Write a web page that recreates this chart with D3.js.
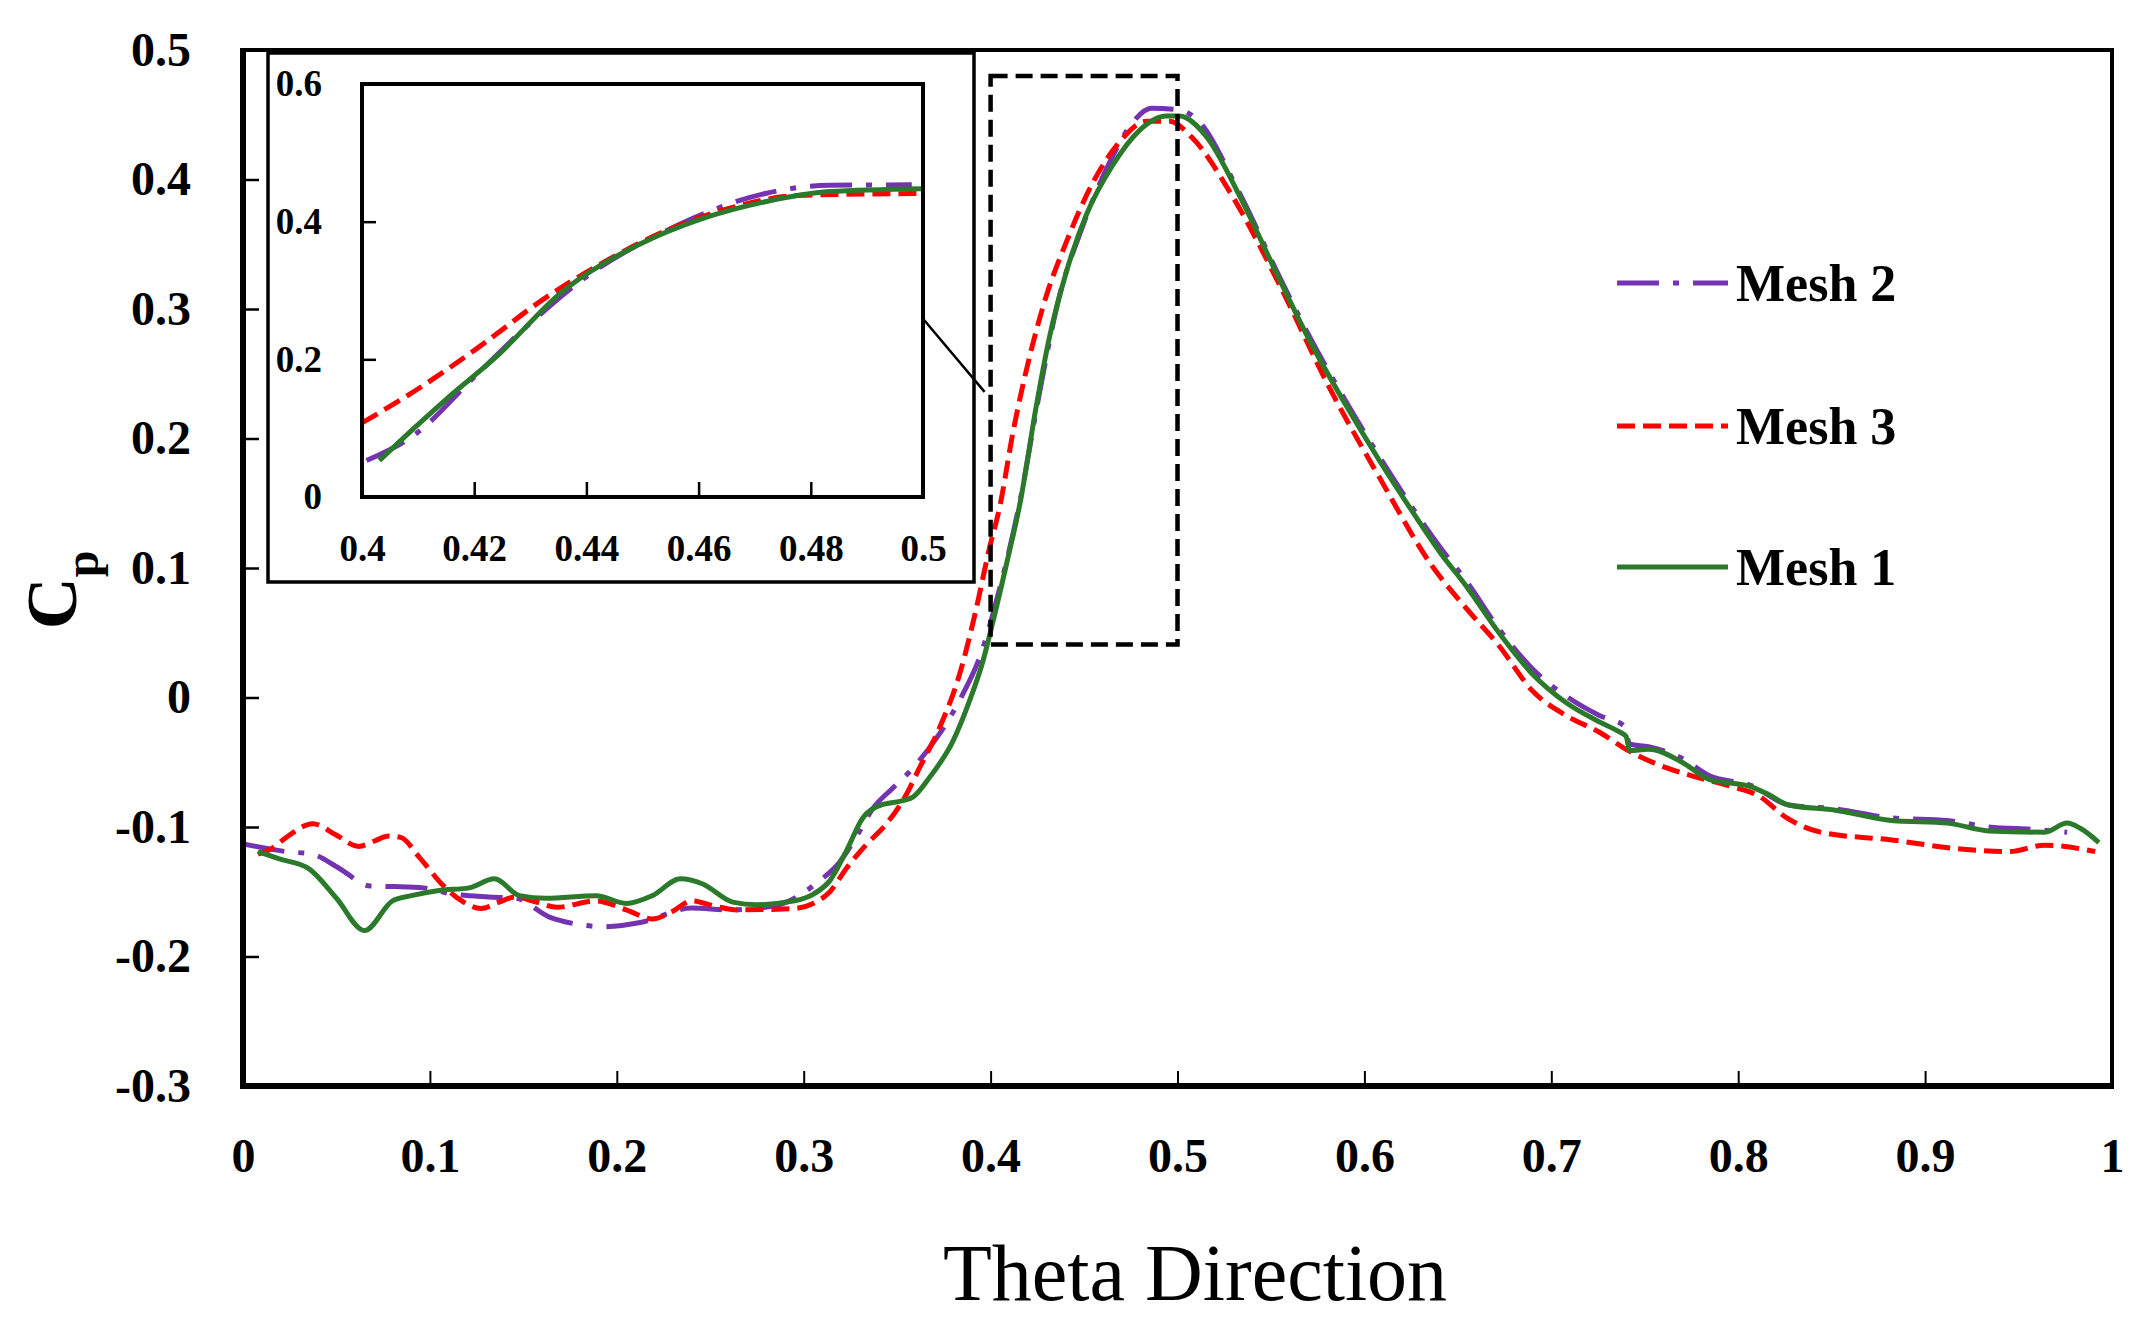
<!DOCTYPE html>
<html><head><meta charset="utf-8">
<script src="https://cdn.jsdelivr.net/npm/d3@7/dist/d3.min.js"></script>
<style>html,body{margin:0;padding:0;background:#fff;} svg{display:block;}</style>
</head><body>
<svg id="chart" width="2149" height="1320"></svg>
<script>
// ---------------- data ----------------
const xTicks = [0, 0.1, 0.2, 0.3, 0.4, 0.5, 0.6, 0.7, 0.8, 0.9, 1];
const xTickLabels = ["0", "0.1", "0.2", "0.3", "0.4", "0.5", "0.6", "0.7", "0.8", "0.9", "1"];
const yTicks = [0.5, 0.4, 0.3, 0.2, 0.1, 0, -0.1, -0.2, -0.3];
const yTickLabels = ["0.5", "0.4", "0.3", "0.2", "0.1", "0", "-0.1", "-0.2", "-0.3"];

const seriesNames = ["Mesh 2", "Mesh 3", "Mesh 1"];

// Mesh 1 (green, solid)
const theta1 = [0.008,0.019,0.035,0.050,0.065,0.080,0.090,0.105,0.121,0.1345,0.148,0.162,0.189,0.205,0.219,0.234,0.246,0.262,0.275,0.295,0.305,0.314,0.323,0.3316,0.3406,0.353,0.3584,0.3674,0.380,0.3888,0.396,0.401,0.4085,0.416,0.4245,0.4316,0.4406,0.4513,0.4653,0.4797,0.494,0.501,0.5155,0.533,0.5545,0.572,0.590,0.608,0.625,0.640,0.655,0.672,0.690,0.708,0.726,0.737,0.740,0.742,0.752,0.770,0.784,0.807,0.815,0.827,0.852,0.882,0.912,0.934,0.964,0.976,0.983,0.993];
const cp1 = [-0.119,-0.1245,-0.132,-0.155,-0.180,-0.157,-0.153,-0.149,-0.147,-0.140,-0.153,-0.155,-0.153,-0.159,-0.153,-0.140,-0.144,-0.158,-0.160,-0.157,-0.152,-0.1414,-0.118,-0.093,-0.0835,-0.0796,-0.077,-0.0616,-0.0333,-0.0023,0.0286,0.057,0.103,0.152,0.2256,0.279,0.329,0.373,0.411,0.438,0.449,0.449,0.433,0.388,0.323,0.272,0.226,0.183,0.145,0.113,0.085,0.050,0.018,-0.004,-0.019,-0.027,-0.030,-0.041,-0.040,-0.050,-0.063,-0.069,-0.074,-0.083,-0.087,-0.095,-0.097,-0.103,-0.104,-0.097,-0.101,-0.112];

// Mesh 2 (purple, dash-dot)
const theta2 = [0.000,0.023,0.037,0.0516,0.068,0.0813,0.0966,0.111,0.1314,0.1457,0.164,0.1775,0.1928,0.2133,0.240,0.2604,0.285,0.3086,0.3187,0.328,0.337,0.3476,0.3584,0.371,0.378,0.385,0.394,0.405,0.4155,0.426,0.437,0.448,0.465,0.476,0.486,0.500,0.510,0.533,0.5545,0.572,0.590,0.608,0.625,0.640,0.655,0.672,0.690,0.708,0.726,0.739,0.742,0.752,0.770,0.784,0.807,0.827,0.852,0.882,0.912,0.934,0.960,0.976];
const cp2 = [-0.113,-0.119,-0.121,-0.132,-0.1456,-0.146,-0.147,-0.1515,-0.154,-0.155,-0.1696,-0.1747,-0.177,-0.1735,-0.1626,-0.164,-0.1606,-0.1414,-0.128,-0.108,-0.0857,-0.070,-0.0546,-0.0314,-0.016,0.0023,0.0304,0.085,0.150,0.234,0.311,0.359,0.417,0.444,0.455,0.454,0.447,0.390,0.325,0.275,0.229,0.186,0.148,0.117,0.089,0.053,0.022,0.001,-0.014,-0.022,-0.036,-0.038,-0.047,-0.060,-0.068,-0.083,-0.086,-0.093,-0.095,-0.100,-0.102,-0.104];

// Mesh 3 (red, dashed)
const theta3 = [0.008,0.0148,0.025,0.0373,0.0496,0.0618,0.070,0.078,0.0843,0.0947,0.107,0.117,0.1273,0.137,0.1457,0.157,0.168,0.1887,0.205,0.219,0.230,0.240,0.252,0.2644,0.295,0.305,0.314,0.3228,0.3335,0.344,0.355,0.362,0.3727,0.3834,0.392,0.399,0.405,0.412,0.421,0.430,0.4406,0.4545,0.469,0.4834,0.4957,0.508,0.529,0.5545,0.581,0.608,0.636,0.655,0.672,0.690,0.708,0.726,0.740,0.761,0.779,0.797,0.811,0.826,0.844,0.882,0.919,0.945,0.964,0.991];
const cp3 = [-0.121,-0.117,-0.106,-0.0974,-0.106,-0.115,-0.111,-0.107,-0.108,-0.124,-0.145,-0.157,-0.163,-0.158,-0.154,-0.158,-0.162,-0.157,-0.164,-0.171,-0.165,-0.157,-0.161,-0.164,-0.163,-0.159,-0.150,-0.132,-0.1136,-0.098,-0.0747,-0.0542,-0.0233,0.0179,0.0665,0.113,0.148,0.205,0.264,0.311,0.352,0.397,0.429,0.445,0.445,0.432,0.388,0.319,0.240,0.170,0.102,0.068,0.040,0.005,-0.014,-0.027,-0.040,-0.054,-0.062,-0.069,-0.076,-0.093,-0.104,-0.110,-0.117,-0.119,-0.114,-0.119];

// Inset (zoomed view 0.4 – 0.5)
const insetXTicks = [0.4, 0.42, 0.44, 0.46, 0.48, 0.5];
const insetXTickLabels = ["0.4", "0.42", "0.44", "0.46", "0.48", "0.5"];
const insetYTicks = [0, 0.2, 0.4, 0.6];
const insetYTickLabels = ["0", "0.2", "0.4", "0.6"];
const insetTheta1 = [0.4031,0.409,0.415,0.4241,0.4355,0.4492,0.4605,0.4719,0.4833,0.5];
const insetCp1 = [0.053,0.098,0.142,0.205,0.297,0.366,0.404,0.429,0.4437,0.448];
const insetTheta2 = [0.4008,0.4098,0.4196,0.4298,0.44,0.4548,0.4719,0.4833,0.498];
const insetCp2 = [0.053,0.093,0.171,0.251,0.32,0.389,0.441,0.453,0.4535];
const insetTheta3 = [0.4,0.4094,0.4207,0.4321,0.4435,0.4548,0.4662,0.4776,0.5];
const insetCp3 = [0.1076,0.154,0.217,0.286,0.343,0.389,0.421,0.438,0.441];

// zoom window drawn on main plot
const zoomTheta = [0.4, 0.5];
const zoomCp = [0.041, 0.48];

// ---------------- drawing ----------------
const svg = d3.select("#chart");
const serif = "'Liberation Serif','Times New Roman',serif";
const colors = {"Mesh 1": "#2b7a2b", "Mesh 2": "#7433b0", "Mesh 3": "#ff0000"};
const dashes = {"Mesh 1": null, "Mesh 2": "42,14,6,14", "Mesh 3": "18,8"};

const x = d3.scaleLinear().domain([0, 1]).range([243, 2112]);
const y = d3.scaleLinear().domain([-0.3, 0.5]).range([1086, 50]);

const series = [
  {name: "Mesh 2", t: theta2, v: cp2},
  {name: "Mesh 3", t: theta3, v: cp3},
  {name: "Mesh 1", t: theta1, v: cp1}
];

svg.append("defs").append("clipPath").attr("id", "plotClip")
  .append("rect").attr("x", x(0)).attr("y", y(0.5)).attr("width", x(1) - x(0)).attr("height", y(-0.3) - y(0.5));

const line = d3.line().x(d => x(d[0])).y(d => y(d[1])).curve(d3.curveMonotoneX);
const gLines = svg.append("g").attr("clip-path", "url(#plotClip)");
series.forEach(s => {
  gLines.append("path")
    .datum(s.t.map((t, i) => [t, s.v[i]]))
    .attr("d", line)
    .attr("fill", "none")
    .attr("stroke", colors[s.name])
    .attr("stroke-width", 5)
    .attr("stroke-dasharray", dashes[s.name])
    .attr("stroke-linejoin", "round");
});

// zoom window (dashed)
svg.append("rect")
  .attr("x", x(zoomTheta[0])).attr("y", y(zoomCp[1]))
  .attr("width", x(zoomTheta[1]) - x(zoomTheta[0]))
  .attr("height", y(zoomCp[0]) - y(zoomCp[1]))
  .attr("fill", "none").attr("stroke", "#000").attr("stroke-width", 4.5)
  .attr("stroke-dasharray", "17,8");

// axes (inward ticks)
const xAxis = d3.axisBottom(x).tickValues(xTicks).tickFormat((d, i) => xTickLabels[i])
  .tickSizeInner(-15).tickSizeOuter(0).tickPadding(52);
const gx = svg.append("g").attr("transform", `translate(0,${y(-0.3)})`).call(xAxis);
gx.select(".domain").remove();
gx.selectAll(".tick line").attr("stroke", "#000").attr("stroke-width", 2);
gx.selectAll(".tick text").attr("font-family", serif).attr("font-weight", "bold").attr("font-size", 48).attr("fill", "#000");

const yAxis = d3.axisLeft(y).tickValues(yTicks).tickFormat((d, i) => yTickLabels[i])
  .tickSizeInner(-16).tickSizeOuter(0).tickPadding(52);
const gy = svg.append("g").attr("transform", `translate(${x(0)},0)`).call(yAxis);
gy.select(".domain").remove();
gy.selectAll(".tick line").attr("stroke", "#000").attr("stroke-width", 2.5);
gy.selectAll(".tick text").attr("font-family", serif).attr("font-weight", "bold").attr("font-size", 48).attr("fill", "#000");

// frame
svg.append("rect").attr("x", x(0)).attr("y", y(0.5)).attr("width", x(1) - x(0)).attr("height", y(-0.3) - y(0.5))
  .attr("fill", "none").attr("stroke", "#000").attr("stroke-width", 4);
svg.append("line").attr("x1", x(0)).attr("x2", x(0)).attr("y1", y(0.5) - 2).attr("y2", y(-0.3) + 3)
  .attr("stroke", "#000").attr("stroke-width", 6);
svg.append("line").attr("x1", x(0) - 3).attr("x2", x(1) + 2).attr("y1", y(-0.3)).attr("y2", y(-0.3))
  .attr("stroke", "#000").attr("stroke-width", 6);

// ---------------- inset ----------------
const ix = d3.scaleLinear().domain([0.4, 0.5]).range([362, 923]);
const iy = d3.scaleLinear().domain([0, 0.6]).range([497, 84]);

svg.append("rect").attr("x", 268).attr("y", 53).attr("width", 706).attr("height", 529)
  .attr("fill", "#fff").attr("stroke", "#000").attr("stroke-width", 3.5);

svg.append("defs").append("clipPath").attr("id", "insetClip")
  .append("rect").attr("x", ix(0.4)).attr("y", iy(0.6)).attr("width", ix(0.5) - ix(0.4)).attr("height", iy(0) - iy(0.6));

const insetSeries = [
  {name: "Mesh 2", t: insetTheta2, v: insetCp2},
  {name: "Mesh 3", t: insetTheta3, v: insetCp3},
  {name: "Mesh 1", t: insetTheta1, v: insetCp1}
];
const iline = d3.line().x(d => ix(d[0])).y(d => iy(d[1])).curve(d3.curveMonotoneX);
const gi = svg.append("g").attr("clip-path", "url(#insetClip)");
insetSeries.forEach(s => {
  gi.append("path")
    .datum(s.t.map((t, i) => [t, s.v[i]]))
    .attr("d", iline)
    .attr("fill", "none")
    .attr("stroke", colors[s.name])
    .attr("stroke-width", 5)
    .attr("stroke-dasharray", dashes[s.name])
    .attr("stroke-linejoin", "round");
});

const ixAxis = d3.axisBottom(ix).tickValues(insetXTicks).tickFormat((d, i) => insetXTickLabels[i])
  .tickSizeInner(-15).tickSizeOuter(0).tickPadding(38);
const gix = svg.append("g").attr("transform", `translate(0,${iy(0)})`).call(ixAxis);
gix.select(".domain").remove();
gix.selectAll(".tick line").attr("stroke", "#000").attr("stroke-width", 2.5);
gix.selectAll(".tick text").attr("font-family", serif).attr("font-weight", "bold").attr("font-size", 37).attr("fill", "#000");

const iyAxis = d3.axisLeft(iy).tickValues(insetYTicks).tickFormat((d, i) => insetYTickLabels[i])
  .tickSizeInner(-14).tickSizeOuter(0).tickPadding(40);
const giy = svg.append("g").attr("transform", `translate(${ix(0.4)},0)`).call(iyAxis);
giy.select(".domain").remove();
giy.selectAll(".tick line").attr("stroke", "#000").attr("stroke-width", 2.5);
giy.selectAll(".tick text").attr("font-family", serif).attr("font-weight", "bold").attr("font-size", 37).attr("fill", "#000");

svg.append("rect").attr("x", ix(0.4)).attr("y", iy(0.6)).attr("width", ix(0.5) - ix(0.4)).attr("height", iy(0) - iy(0.6))
  .attr("fill", "none").attr("stroke", "#000").attr("stroke-width", 4);

// connector line from inset to zoom window
svg.append("line")
  .attr("x1", ix(0.5)).attr("y1", iy(0.259))
  .attr("x2", x(zoomTheta[0]) - 6).attr("y2", y(0.236))
  .attr("stroke", "#000").attr("stroke-width", 2.5);

// ---------------- legend ----------------
const legendY = [283, 426, 567];
series.forEach((s, i) => {
  svg.append("line").attr("x1", 1617).attr("x2", 1728).attr("y1", legendY[i]).attr("y2", legendY[i])
    .attr("stroke", colors[s.name]).attr("stroke-width", 5).attr("stroke-dasharray", dashes[s.name]);
  svg.append("text").attr("x", 1736).attr("y", legendY[i]).attr("dy", "0.34em")
    .attr("font-family", serif).attr("font-weight", "bold").attr("font-size", 52).attr("fill", "#000")
    .text(s.name);
});

// ---------------- axis titles ----------------
svg.append("text").attr("x", 1195).attr("y", 1300).attr("text-anchor", "middle")
  .attr("font-family", serif).attr("font-size", 80).attr("fill", "#000").text("Theta Direction");

const yl = svg.append("text").attr("transform", "translate(76,590) rotate(-90)").attr("text-anchor", "middle")
  .attr("font-family", serif).attr("font-weight", "bold").attr("fill", "#000");
yl.append("tspan").attr("font-size", 72).text("C");
yl.append("tspan").attr("font-size", 48).attr("dy", 22).text("p");
</script>
</body></html>
